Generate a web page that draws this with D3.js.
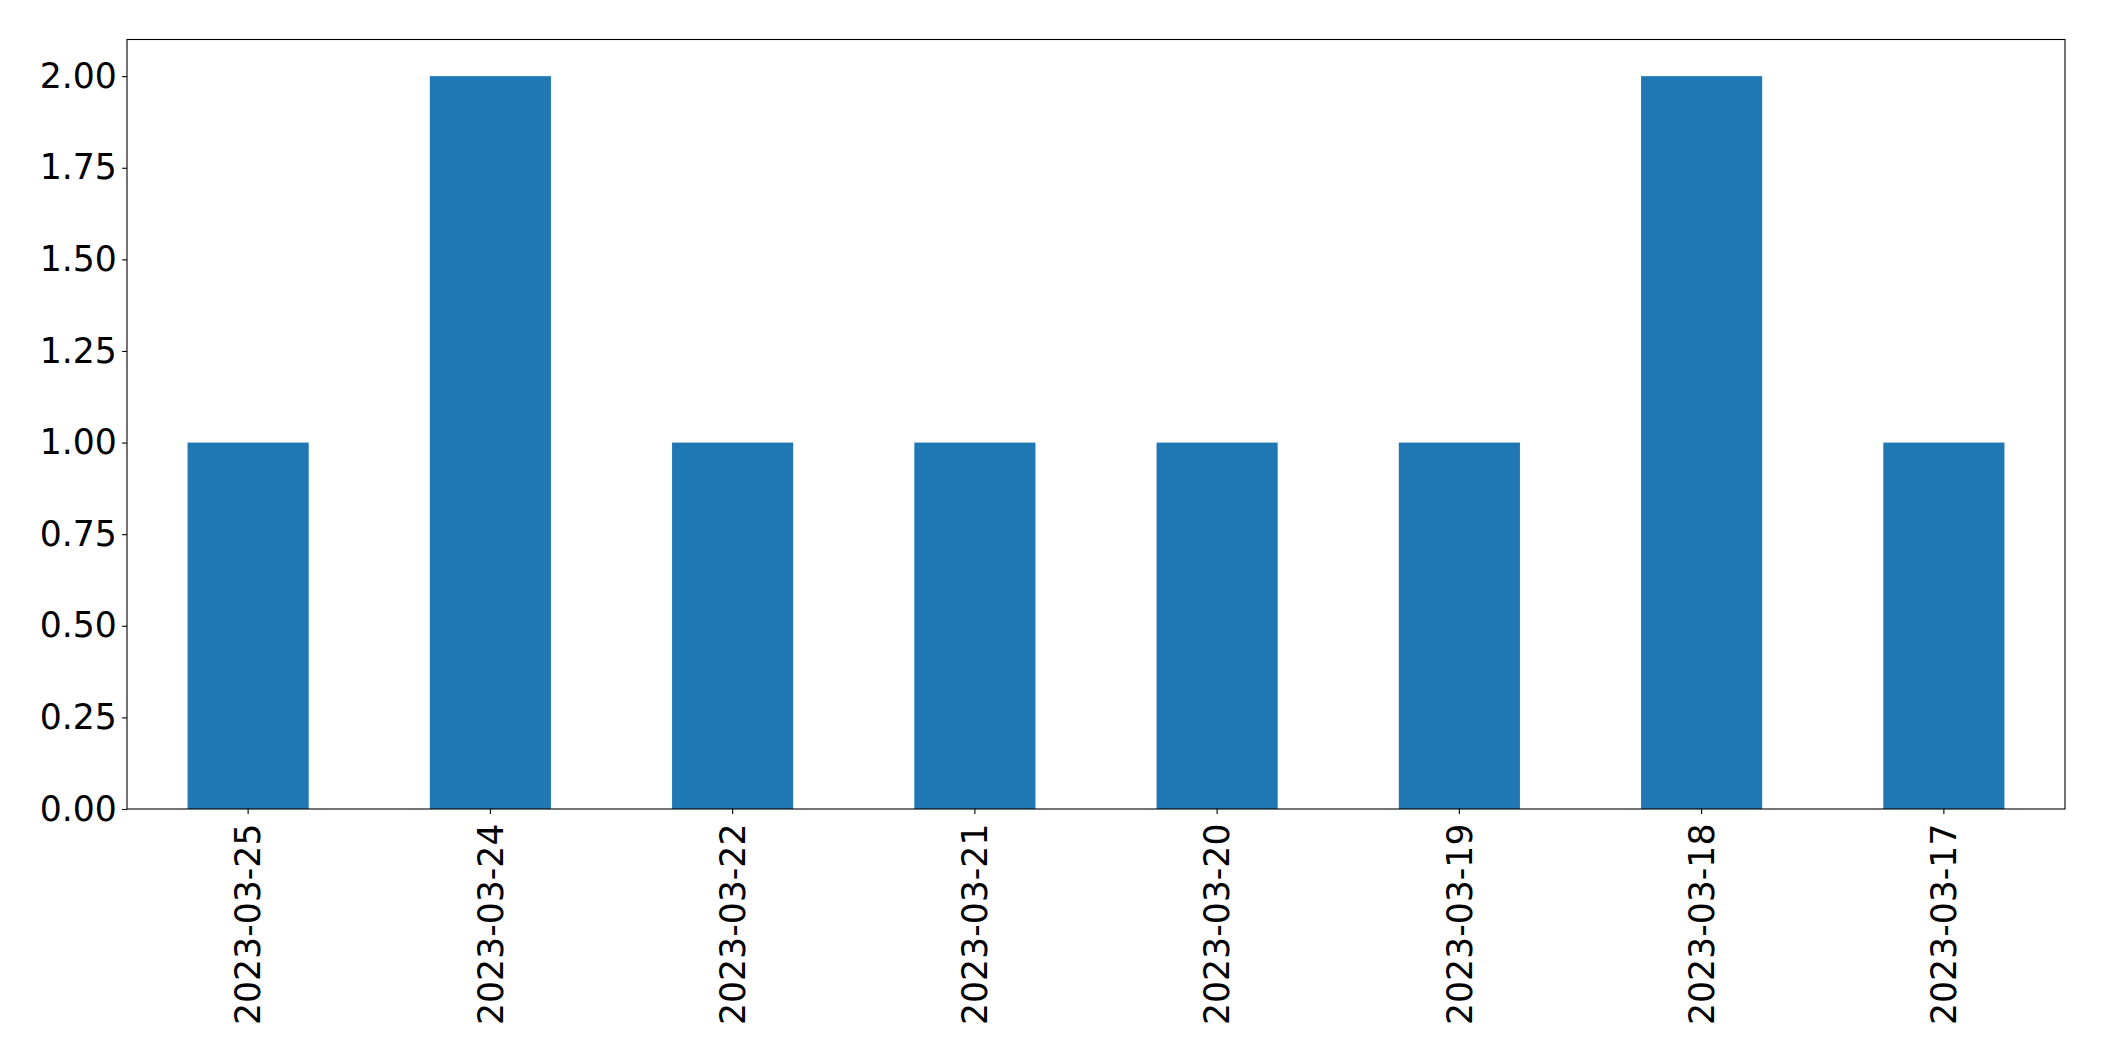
<!DOCTYPE html>
<html><head><meta charset="utf-8">
<script src="https://cdn.jsdelivr.net/npm/d3@7"></script>
<style>body{margin:0;background:#fff}svg{display:block}text{font-family:"DejaVu Sans",sans-serif}</style>
</head><body>
<svg id="c" width="2104" height="1061"></svg>
<script>
const categories = ["2023-03-25","2023-03-24","2023-03-22","2023-03-21","2023-03-20","2023-03-19","2023-03-18","2023-03-17"];
const values = [1, 2, 1, 1, 1, 1, 2, 1];
const yTicks = [0, 0.25, 0.5, 0.75, 1.0, 1.25, 1.5, 1.75, 2.0];

const L = 127, R = 2065, T = 39.5, B = 809;
const FS = 34.7;
const svg = d3.select("#c");
const x = d3.scaleBand().domain(categories).range([L, R]).paddingInner(0.5).paddingOuter(0.25);
const y = d3.scaleLinear().domain([0, 2.1]).range([B, T]);

svg.append("g").selectAll("rect").data(values).join("rect")
  .attr("x", (d, i) => x(categories[i]))
  .attr("width", x.bandwidth())
  .attr("y", d => y(d))
  .attr("height", d => B - y(d))
  .attr("fill", "#1f77b4");

const yAxis = svg.append("g").attr("transform", `translate(${L},0)`)
  .call(d3.axisLeft(y).tickValues(yTicks).tickFormat(d3.format(".2f")).tickSizeInner(4.9).tickSizeOuter(0).tickPadding(5.2));
yAxis.select(".domain").remove();
yAxis.selectAll("line").attr("stroke", "#000").attr("stroke-width", 1.1);
yAxis.selectAll("text").attr("font-size", FS).attr("fill", "#000").attr("font-family", "DejaVu Sans");

const xAxis = svg.append("g").attr("transform", `translate(0,${B})`)
  .call(d3.axisBottom(x).tickSizeInner(4.9).tickSizeOuter(0).tickPadding(0));
xAxis.select(".domain").remove();
xAxis.selectAll("line").attr("stroke", "#000").attr("stroke-width", 1.1);
xAxis.selectAll("text")
  .attr("font-size", FS).attr("fill", "#000").attr("font-family", "DejaVu Sans")
  .attr("text-anchor", "end")
  .attr("y", 0).attr("dy", "0.35em")
  .attr("transform", "translate(0,14.5) rotate(-90)");

svg.append("rect").attr("x", L).attr("y", T).attr("width", R - L).attr("height", B - T)
  .attr("fill", "none").attr("stroke", "#000").attr("stroke-width", 1.1);
</script>
</body></html>
